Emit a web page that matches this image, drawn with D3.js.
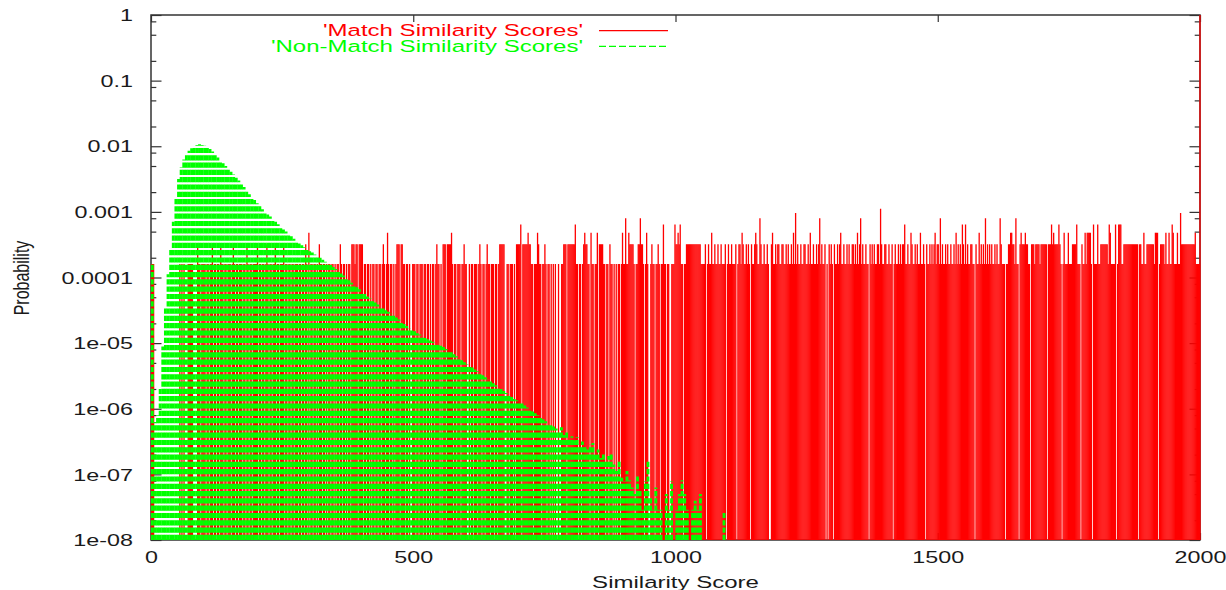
<!DOCTYPE html>
<html lang="en">
<head>
<meta charset="utf-8">
<title>Similarity Score Distributions</title>
<script src="https://cdnjs.cloudflare.com/ajax/libs/d3/7.8.5/d3.min.js"></script>
<style>
body {
   margin: 0;
   background: #fff;
}
.label {
   font-family: "Liberation Sans", Arial, sans-serif;
   fill: #1a1a1a;
}
.match {
   stroke: #ff0000;
   stroke-width: 1.3;
}
.nonmatch {
   stroke: #00ff00;
   stroke-width: 2.9;
   stroke-dasharray: 5.2, 2.1;
}
</style>
</head>
<body>
<div id="chart"></div>
<script type="text/javascript">

// Match scores: sample counts, one char per even score (row r covers scores r*100 .. r*100+99)
const matchRows = [
   "11100000000000000000000000010101000111110000211011",
   "11011011201101102110110111012101101110110210110111",
   "12011011012101101120110111201101101101110110110210",
   "30110110102110110101101101011021011010110222122022",
   "22011011010110110110121013101101012220221101101001",
   "11011011101101101011012110102220222231011011101121",
   "10010110111012101101211011101101222220011011101022",
   "22402222232211011132110112101101010100100112220222",
   "22224110110123221103110113022221101102110101011013",
   "11511322221011225221013100121101121011411011001114",
   "22324110112222222222222211112012113112112112111201",
   "21121112012213211212102112321152112112100231121221",
   "12211212112131612112112211213112112125121120102121",
   "02112123112112121122121312512112110212121122172112",
   "21121120121121212241121132112121131121021121212312",
   "21512112121121121312121421412112211021131212151212",
   "12112121152111011223322151102322232211022212222122",
   "22220222423222242101311131112222411102113133331041",
   "11411222222214311114014441122222222222222022113112",
   "22222213330122221311311431113116222222222222231111"
];
const matchTotal = 6250;     // one sample = 1.6e-4
const matchAt2000 = 1;       // everything at the top of the range

// Non-match scores: log10 probability per 5-score bin (row r covers r*100 .. r*100+95)
const nonMatchLog10 = [
   [-3.77, -6.2, -6.1, -5.7, -5.05, -4.45, -3.95, -3.55, -3.15, -2.8, -2.5, -2.32, -2.2, -2.12, -2.07, -2.03, -2.0, -1.98, -1.97, -1.98],
   [-1.99, -2.01, -2.04, -2.08, -2.13, -2.17, -2.22, -2.26, -2.30, -2.35, -2.39, -2.43, -2.48, -2.52, -2.57, -2.62, -2.67, -2.73, -2.78, -2.82],
   [-2.87, -2.91, -2.96, -3.00, -3.04, -3.07, -3.11, -3.15, -3.19, -3.23, -3.27, -3.30, -3.34, -3.37, -3.41, -3.44, -3.48, -3.51, -3.54, -3.57],
   [-3.60, -3.62, -3.65, -3.67, -3.70, -3.73, -3.76, -3.78, -3.81, -3.84, -3.87, -3.90, -3.94, -3.97, -4.01, -4.04, -4.08, -4.11, -4.15, -4.18],
   [-4.22, -4.25, -4.29, -4.32, -4.35, -4.38, -4.41, -4.44, -4.47, -4.50, -4.52, -4.55, -4.58, -4.61, -4.64, -4.67, -4.71, -4.74, -4.77, -4.80],
   [-4.82, -4.85, -4.87, -4.89, -4.92, -4.94, -4.96, -4.98, -5.00, -5.02, -5.04, -5.06, -5.09, -5.11, -5.14, -5.17, -5.20, -5.23, -5.26, -5.29],
   [-5.32, -5.34, -5.37, -5.40, -5.43, -5.46, -5.49, -5.52, -5.55, -5.58, -5.61, -5.64, -5.67, -5.70, -5.73, -5.76, -5.79, -5.82, -5.85, -5.87],
   [-5.90, -5.92, -5.95, -5.98, -6.01, -6.04, -6.07, -6.10, -6.13, -6.16, -6.19, -6.22, -6.24, -6.27, -6.30, -6.33, -6.28, -6.40, -6.36, -6.45],
   [-6.42, -6.48, -6.43, -6.55, -6.50, -6.58, -6.62, -6.55, -6.52, -6.70, -6.62, -6.75, -6.68, -6.80, -6.72, -6.67, -6.85, -6.95, -6.80, -7.05],
   [-7.10, -6.95, -7.09, -7.2, -7.3, -7.0, -7.25, -7.54, -7.1, -6.80, -7.35, -7.54, -7.2, -7.54, -7.54, null, -7.3, -7.54, -7.1, null],
   [-7.54, -7.3, -7.09, -7.3, -7.54, null, -7.54, -7.4, -7.54, -7.3, null, null, null, null, null, null, null, null, -7.59, null]
];

const xTicks = [0, 500, 1000, 1500, 2000];
const yTicks = [1, 0.1, 0.01, 0.001, 0.0001, 1e-5, 1e-6, 1e-7, 1e-8];
const yTickLabels = ["1", "0.1", "0.01", "0.001", "0.0001", "1e-05", "1e-06", "1e-07", "1e-08"];
const yMinorTicks = [
   0.8, 0.5, 0.2, 0.08, 0.05, 0.02, 0.008, 0.005, 0.002, 8e-4, 5e-4, 2e-4,
   8e-5, 5e-5, 2e-5, 8e-6, 5e-6, 2e-6, 8e-7, 5e-7, 2e-7, 8e-8, 5e-8, 2e-8
];
const legendLabels = ["'Match Similarity Scores'", "'Non-Match Similarity Scores'"];
const legendColors = ["#ff0000", "#00ff00"];

const w = 1226;
const h = 590;
const plotLeft = 151, plotRight = 1200, plotTop = 15, plotBottom = 540;
const stretch = 1.43;   // the original text is stretched sideways

const xScale = d3.scaleLinear().domain([0, 2000]).range([plotLeft, plotRight]);
const yScale = d3.scaleLog().domain([1e-8, 1]).range([plotBottom, plotTop]);

const svg = d3.select("#chart")
   .append("svg")
   .attr("width", w)
   .attr("height", h);

// frame
svg.append("rect")
   .attr("x", plotLeft)
   .attr("y", plotTop)
   .attr("width", plotRight - plotLeft)
   .attr("height", plotBottom - plotTop)
   .attr("fill", "none")
   .attr("stroke", "#333")
   .attr("stroke-width", 1.5);

function styleAxis(g) {
   g.select(".domain").remove();
   g.selectAll("line").attr("stroke", "#333").attr("stroke-width", 1.2);
}

// y axis, ticks pointing inwards on both sides
svg.append("g")
   .attr("transform", "translate(" + plotLeft + ",0)")
   .call(d3.axisLeft(yScale).tickValues(yTicks).tickFormat((d, i) => yTickLabels[i]).tickSize(-10.5).tickPadding(12.7))
   .call(styleAxis)
   .call(g => g.selectAll("text")
      .attr("class", "label")
      .attr("font-size", 16.3)
      .attr("dy", "0.35em")
      .attr("transform", "scale(" + stretch + ",1)"));

svg.append("g")
   .attr("transform", "translate(" + plotLeft + ",0)")
   .call(d3.axisLeft(yScale).tickValues(yMinorTicks).tickFormat("").tickSize(-5.3))
   .call(styleAxis);

svg.append("g")
   .attr("transform", "translate(" + plotRight + ",0)")
   .call(d3.axisRight(yScale).tickValues(yTicks).tickFormat("").tickSize(-10.5))
   .call(styleAxis);

svg.append("g")
   .attr("transform", "translate(" + plotRight + ",0)")
   .call(d3.axisRight(yScale).tickValues(yMinorTicks).tickFormat("").tickSize(-5.3))
   .call(styleAxis);

// x axis
svg.append("g")
   .attr("transform", "translate(0," + plotBottom + ")")
   .call(d3.axisBottom(xScale).tickValues(xTicks).tickFormat(d => d).tickSize(-7).tickPadding(11.4))
   .call(styleAxis)
   .call(g => g.selectAll("text")
      .attr("class", "label")
      .attr("font-size", 16.3)
      .attr("transform", "scale(" + stretch + ",1)"));

svg.append("g")
   .attr("transform", "translate(0," + plotTop + ")")
   .call(d3.axisTop(xScale).tickValues(xTicks).tickFormat("").tickSize(-7))
   .call(styleAxis);

// Match impulses
const matchBars = [];
matchRows.forEach((row, r) => {
   for (let j = 0; j < row.length; j++) {
      const c = +row[j];
      if (c > 0) {
         matchBars.push({ score: r * 100 + 2 * j + 1, p: c / matchTotal });
      }
   }
});
matchBars.push({ score: 2000, p: matchAt2000 });

svg.selectAll(".match")
   .data(matchBars)
   .enter()
   .append("line")
   .attr("class", "match")
   .attr("x1", d => xScale(d.score))
   .attr("x2", d => xScale(d.score))
   .attr("y1", yScale(1e-8))
   .attr("y2", d => yScale(d.p));

// Non-match impulses (dashed, drawn on top)
const nonMatchBars = [];
nonMatchLog10.forEach((row, r) => {
   row.forEach((v, k) => {
      if (v !== null) {
         nonMatchBars.push({ score: r * 100 + 5 * k + 2.5, p: Math.pow(10, v) });
      }
   });
});

svg.selectAll(".nonmatch")
   .data(nonMatchBars)
   .enter()
   .append("line")
   .attr("class", "nonmatch")
   .attr("x1", d => xScale(d.score))
   .attr("x2", d => xScale(d.score))
   .attr("y1", yScale(1e-8))
   .attr("y2", d => yScale(d.p));

// legend
const legend = svg.selectAll(".legend")
   .data(legendLabels)
   .enter()
   .append("g")
   .attr("class", "legend")
   .attr("transform", (d, i) => "translate(0," + (i * 15.6) + ")");

legend.append("text")
   .attr("class", "label")
   .attr("transform", "translate(583,36) scale(" + stretch + ",1)")
   .attr("text-anchor", "end")
   .attr("font-size", 16.8)
   .style("fill", (d, i) => legendColors[i])
   .text(d => d);

legend.append("line")
   .attr("x1", 599)
   .attr("x2", 668)
   .attr("y1", 30.7)
   .attr("y2", 30.7)
   .attr("stroke", (d, i) => legendColors[i])
   .attr("stroke-width", 1.2)
   .attr("stroke-dasharray", (d, i) => i === 1 ? "7,3" : null);

// axis titles
svg.append("text")
   .attr("class", "label")
   .attr("transform", "translate(675.5,588) scale(" + stretch + ",1)")
   .attr("text-anchor", "middle")
   .attr("font-size", 16.8)
   .text("Similarity Score");

svg.append("text")
   .attr("class", "label")
   .attr("transform", "translate(28.7,278) scale(" + stretch + ",1) rotate(-90)")
   .attr("text-anchor", "middle")
   .attr("font-size", 16)
   .text("Probability");

</script>
</body>
</html>
